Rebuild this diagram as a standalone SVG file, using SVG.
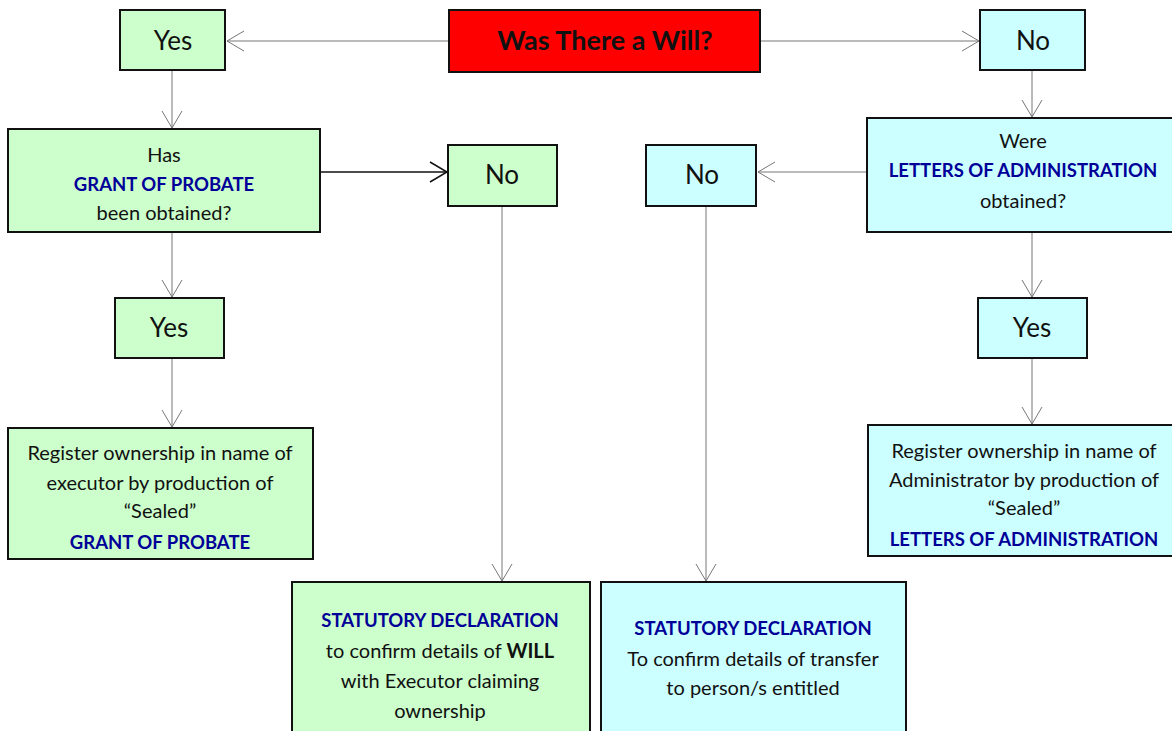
<svg xmlns="http://www.w3.org/2000/svg" width="1172" height="731" viewBox="0 0 1172 731">
<style>
.box{stroke:#111;stroke-width:2}
.g{fill:#ccffcc}
.c{fill:#ccffff}
.r{fill:#ff0000}
text{font-family:Lato,"Open Sans","Liberation Sans",sans-serif;fill:#111;text-anchor:middle}
.big{font-size:27px}
.yn{font-size:26px}
.t{font-size:20px}
.b{font-weight:bold;fill:#000099;font-size:18.5px}
.k{font-weight:bold;fill:#111}
.conn{stroke:#777;stroke-width:1;fill:none}
.dark{stroke:#111;stroke-width:1.5}
</style>
<defs>
<marker id="ah" markerUnits="userSpaceOnUse" markerWidth="22" markerHeight="24" refX="18" refY="12" orient="auto">
<path d="M1,2 L18,12 L1,22" fill="none" stroke="#777" stroke-width="1"/>
</marker>
<marker id="ahd" markerUnits="userSpaceOnUse" markerWidth="22" markerHeight="24" refX="18" refY="12" orient="auto">
<path d="M1,2 L18,12 L1,22" fill="none" stroke="#111" stroke-width="1.5"/>
</marker>
</defs>
<g id="connectors">
<line class="conn" x1="449" y1="41" x2="227" y2="41" marker-end="url(#ah)"/>
<line class="conn" x1="760" y1="41" x2="979" y2="41" marker-end="url(#ah)"/>
<line class="conn" x1="172" y1="71" x2="172" y2="128" marker-end="url(#ah)"/>
<line class="conn dark" x1="321" y1="172" x2="447" y2="172" marker-end="url(#ahd)"/>
<line class="conn" x1="867" y1="172" x2="758" y2="172" marker-end="url(#ah)"/>
<line class="conn" x1="1032" y1="71" x2="1032" y2="117" marker-end="url(#ah)"/>
<line class="conn" x1="172" y1="233" x2="172" y2="297" marker-end="url(#ah)"/>
<line class="conn" x1="172" y1="359" x2="172" y2="427" marker-end="url(#ah)"/>
<line class="conn" x1="1032" y1="233" x2="1032" y2="297" marker-end="url(#ah)"/>
<line class="conn" x1="1032" y1="359" x2="1032" y2="424" marker-end="url(#ah)"/>
<line class="conn" x1="502" y1="207" x2="502" y2="581" marker-end="url(#ah)"/>
<line class="conn" x1="706" y1="207" x2="706" y2="581" marker-end="url(#ah)"/>
</g>
<g id="will">
<rect class="box r" x="449" y="10" width="311" height="62"/>
<text x="605" y="50" class="big k">Was There a Will?</text>
</g>
<g id="yes-top">
<rect class="box g" x="120" y="10" width="105" height="60"/>
<text x="173" y="50" class="yn">Yes</text>
</g>
<g id="no-top">
<rect class="box c" x="980" y="10" width="105" height="60"/>
<text x="1033" y="50" class="yn">No</text>
</g>
<g id="probate-q">
<rect class="box g" x="8" y="129" width="312" height="103"/>
<text x="164" y="162" class="t">Has</text>
<text x="164" y="191" class="b">GRANT OF PROBATE</text>
<text x="164" y="220" class="t">been obtained?</text>
</g>
<g id="no-green">
<rect class="box g" x="448" y="145" width="109" height="61"/>
<text x="502" y="184" class="yn">No</text>
</g>
<g id="no-cyan">
<rect class="box c" x="646" y="145" width="110" height="61"/>
<text x="702" y="184" class="yn">No</text>
</g>
<g id="letters-q">
<rect class="box c" x="867" y="118" width="306" height="114"/>
<text x="1023" y="148" class="t">Were</text>
<text x="1023" y="177" class="b">LETTERS OF ADMINISTRATION</text>
<text x="1023" y="208" class="t">obtained?</text>
</g>
<g id="yes-green">
<rect class="box g" x="115" y="298" width="109" height="60"/>
<text x="169" y="337" class="yn">Yes</text>
</g>
<g id="yes-cyan">
<rect class="box c" x="978" y="298" width="109" height="60"/>
<text x="1032" y="337" class="yn">Yes</text>
</g>
<g id="register-exec">
<rect class="box g" x="8" y="428" width="305" height="131"/>
<text x="160" y="460" class="t">Register ownership in name of</text>
<text x="160" y="490" class="t">executor by production of</text>
<text x="160" y="518" class="t">“Sealed”</text>
<text x="160" y="549" class="b">GRANT OF PROBATE</text>
</g>
<g id="register-admin">
<rect class="box c" x="868" y="425" width="306" height="131"/>
<text x="1024" y="458" class="t">Register ownership in name of</text>
<text x="1024" y="487" class="t">Administrator by production of</text>
<text x="1024" y="515" class="t">“Sealed”</text>
<text x="1024" y="546" class="b">LETTERS OF ADMINISTRATION</text>
</g>
<g id="stat-will">
<rect class="box g" x="292" y="582" width="298" height="160"/>
<text x="440" y="627" class="b">STATUTORY DECLARATION</text>
<text x="440" y="658" class="t">to confirm details of <tspan class="k">WILL</tspan></text>
<text x="440" y="688" class="t">with Executor claiming</text>
<text x="440" y="718" class="t">ownership</text>
</g>
<g id="stat-transfer">
<rect class="box c" x="601" y="582" width="305" height="160"/>
<text x="753" y="635" class="b">STATUTORY DECLARATION</text>
<text x="753" y="666" class="t">To confirm details of transfer</text>
<text x="753" y="695" class="t">to person/s entitled</text>
</g>
</svg>
